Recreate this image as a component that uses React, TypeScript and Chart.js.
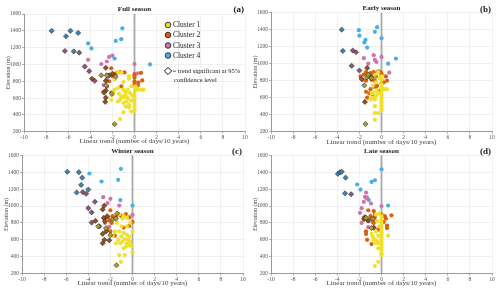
import React, { useEffect, useRef } from "react";
import { Chart, registerables } from "chart.js";

Chart.register(...registerables);

type P = [number, number];

// ---------- Full season ----------
const fullC1: P[] = [[-1.5,910],[-1.2,900],[-0.5,860],[-0.5,830],[-1.0,790],[-1.8,820],[-1.5,720],[-1.8,700],[-1.0,700],[-0.8,670],[-0.8,630],[-1.1,620],[-1.3,580],[-0.6,600],[-0.3,570],[-0.5,520],[-0.8,500],[-0.5,490],[-1.0,540],[-1.5,560],[-2.1,580],[-1.0,430],[-1.3,350],[0.1,700],[0.3,700],[0.6,700],[0.8,700],[0,650],[0,610],[0,570],[0,530],[0,490],[0,450],[-0.3,440],[-0.2,630],[-0.4,660],[-0.6,700],[-1.4,650],[-1.2,610],[-0.3,740],[0.1,740],[-1.9,680],[-2.0,640],[-0.7,560],[-0.9,610]];
const fullC1Sig: P[] = [[-3.0,870],[-2.5,870],[-1.7,855],[-2.55,750],[-2.05,650],[-1.8,290]];
const fullC2: P[] = [[-2.1,955],[-1.3,910],[-0.9,905],[-1.6,900],[-1.8,885],[-2.5,875],[0,885],[0,870],[0,845],[0.6,900],[0.7,810],[0.35,785],[0.3,750],[-1.2,740],[-2.5,735],[-2.8,675],[-2.1,665],[-2.3,800],[-2.0,860],[0,800],[0,770]];
const fullC2Sig: P[] = [[-3.85,830],[-2.6,960],[-2.6,805],[-2.6,690],[-2.75,665],[-2.6,605],[-2.65,555],[-2.3,870],[-2.0,890]];
const fullC3: P[] = [[-4.2,1055],[-3.0,1005],[-2.5,1035],[-2.3,1090],[-2.0,1105],[0,1005],[0.3,895],[-2.8,755],[-2.5,830]];
const fullC3Sig: P[] = [[-6.3,1160],[-5.0,1140],[-4.5,975],[-4.1,920],[-3.6,805]];
const fullC4: P[] = [[-1.1,1430],[-1.2,1300],[-1.7,1280],[-4.2,1250],[-3.9,1190],[-1.8,1070],[1.4,1000]];
const fullC4Sig: P[] = [[-7.5,1400],[-6.2,1335],[-5.8,1400],[-5.1,1375],[-5.5,1155]];

// ---------- Early season ----------
const earlyC1: P[] = [[0,850],[0,810],[0,760],[0,720],[0,680],[0,650],[0,620],[0,590],[0,560],[0,530],[0,500],[0,470],[0,450],[0.1,700],[0.3,700],[0.5,700],[-0.6,500],[-0.6,420],[-0.6,340],[-0.3,420],[-0.8,600],[-0.6,580],[-0.3,650],[-0.7,660],[-0.4,690],[-1.0,580],[-0.9,650],[-0.5,620],[-0.2,830],[-0.3,900],[-0.6,870],[-0.5,780],[-0.8,740]];
const earlyC1Sig: P[] = [[-1.45,290],[-1.55,745],[-1.3,840],[-0.9,830],[-1.2,870]];
const earlyC2: P[] = [[-1.4,900],[-1.0,890],[-0.7,900],[-0.3,910],[-0.1,905],[0,880],[0,870],[0,820],[0,770],[-1.6,870],[-1.2,870],[-0.8,860],[-0.5,850],[-1.7,810],[-1.4,800],[-0.9,810],[-0.6,800],[-0.4,740],[-0.7,730],[-1.0,700],[-1.4,670],[-1.1,650],[-1.3,600],[0.4,850],[0.5,800],[0.2,780],[-0.2,680],[-0.8,620],[-1.9,850],[-0.5,730]];
const earlyC2Sig: P[] = [[-1.3,950],[-1.5,550],[-1.0,840]];
const earlyC3: P[] = [[-0.7,1100],[-0.6,1045],[-0.45,1020],[-1.6,1065],[-1.2,1000],[0,1080],[0.7,895]];
const earlyC3Sig: P[] = [[-2.6,1155],[-2.3,1135],[-2.7,975],[-2.0,920],[-1.8,820]];
const earlyC4: P[] = [[-0.4,1430],[-0.6,1375],[-2.05,1395],[-2.0,1330],[-1.45,1280],[-1.55,1250],[-1.3,1190],[0,1300],[0.6,1000],[1.3,1060]];
const earlyC4Sig: P[] = [[-3.6,1400],[-3.5,1150]];

// ---------- Winter season ----------
const winterC1: P[] = [[-1.2,900],[-0.8,880],[-0.5,860],[-0.9,850],[-1.4,800],[-1.0,760],[-0.5,760],[-0.2,800],[0,700],[-1.2,700],[-0.8,680],[-0.5,660],[-0.3,640],[-1.0,640],[-0.7,610],[-0.4,600],[-0.2,580],[-0.5,560],[-0.3,540],[-0.6,520],[-0.8,500],[-0.1,530],[-1.3,600],[-1.5,560],[-1.1,560],[-1.2,420],[-0.7,420],[-1.05,340],[0,450],[-1.6,700],[-1.8,650],[-0.9,580]];
const winterC1Sig: P[] = [[-2.0,655],[-2.4,740],[-1.45,300],[-1.8,840],[-1.5,850],[-1.4,910],[-3.1,760]];
const winterC2: P[] = [[-2.0,950],[-1.3,910],[-0.6,905],[-0.3,865],[0,810],[-0.3,765],[-0.8,745],[-1.0,880],[-1.5,870],[-1.8,880],[-2.2,870],[-2.5,850],[-2.1,830],[-1.9,800],[-1.1,890],[-0.8,880],[-1.6,650],[-2.0,700],[-2.3,720]];
const winterC2Sig: P[] = [[-2.55,1005],[-2.7,960],[-3.35,825],[-2.6,860],[-2.5,820],[-2.4,700],[-2.7,670],[-2.7,560],[-2.55,600],[-2.1,595],[-2.3,880]];
const winterC3: P[] = [[-2.65,1105],[-2.0,1085],[-2.25,1035],[-1.2,1005],[0,895],[-2.1,755],[-2.5,800]];
const winterC3Sig: P[] = [[-4.5,1165],[-4.2,1145],[-3.4,1050],[-4.0,975],[-3.7,925],[-3.7,805],[-3.0,760]];
const winterC4: P[] = [[-3.9,1385],[-2.8,1290],[-1.3,1310],[-1.05,1440],[-1.1,1070],[0,1005]];
const winterC4Sig: P[] = [[-5.9,1405],[-4.85,1400],[-4.55,1335],[-4.65,1250],[-4.0,1195],[-5.05,1160]];

// ---------- Late season ----------
const lateC1: P[] = [[0,880],[0,840],[0,800],[0,760],[0,720],[0,690],[0,660],[0,630],[0,600],[0,570],[0,540],[0,510],[0,480],[0,440],[0,420],[-0.6,290],[-0.3,340],[-0.3,500],[0.6,650],[-0.5,700],[-0.8,640],[-0.6,610],[-0.4,580],[-0.2,560],[-0.7,600],[-0.3,650],[-0.5,900],[-0.2,910],[-0.4,820],[-0.2,760],[-0.9,670],[-0.5,560]];
const lateC1Sig: P[] = [[-1.4,860],[-0.8,850],[-0.9,740]];
const lateC2: P[] = [[-1.2,950],[-0.7,940],[-0.6,900],[-0.6,870],[-0.9,850],[-1.2,820],[-0.5,820],[-0.7,800],[0,900],[0.3,880],[0.4,850],[0.5,770],[0.5,740],[0.2,810],[0.9,890],[-1.4,700],[-1.4,670],[-1.3,600],[-0.9,550],[-1.0,880],[-1.6,840],[-0.3,720]];
const lateC2Sig: P[] = [[-1.5,870],[-1.55,850],[-1.2,830],[-0.7,745]];
const lateC3: P[] = [[-1.4,1160],[-1.5,1110],[-1.35,1090],[-1.6,1050],[-1.8,975],[-1.95,920],[-1.8,800],[-0.95,1030],[0,1000],[-1.2,750],[-1.3,1100],[-0.8,810]];
const lateC3Sig: P[] = [[-2.75,1140]];
const lateC4: P[] = [[0,1435],[-0.6,1305],[-0.9,1285],[-2.2,1255],[-1.9,1195],[-1.15,1070],[0.6,1005]];
const lateC4Sig: P[] = [[-3.95,1380],[-3.75,1400],[-3.6,1405],[-3.25,1335],[-3.3,1150]];

const clusterLabels = ["Cluster 1", "Cluster 2", "Cluster 3", "Cluster 4"];
const clusterColors = ["#f0e02a", "#d9600f", "#cf73aa", "#49aee6"];
const sigColors = ["#a3a033", "#94501e", "#93547a", "#3f82b0"];
const xTicksMin = -10, xTicksMax = 10, xStep = 2;
const yTicksMin = 200, yTicksMax = 1600, yStep = 200;

const SERIF = "'Liberation Serif', 'DejaVu Serif', serif";

interface PanelDef {
  title: string;
  tag: string;
  series: P[][];
  sig: P[][];
  left: number; top: number; w: number; h: number;
  area: { l: number; r: number; t: number; b: number };
  xTitleY: number; yTitleX: number; titleY: number; tagY: number;
  legend?: boolean;
}

const panels: PanelDef[] = [
  { title: "Full season", tag: "(a)", series: [fullC1, fullC2, fullC3, fullC4], sig: [fullC1Sig, fullC2Sig, fullC3Sig, fullC4Sig],
    left: 0, top: 0, w: 250, h: 146, area: { l: 24, r: 245, t: 14, b: 131.7 }, xTitleY: 141.5, yTitleX: 8.5, titleY: 9.5, tagY: 9.5, legend: true },
  { title: "Early season", tag: "(b)", series: [earlyC1, earlyC2, earlyC3, earlyC4], sig: [earlyC1Sig, earlyC2Sig, earlyC3Sig, earlyC4Sig],
    left: 250, top: 0, w: 250, h: 146, area: { l: 21, r: 242, t: 12.7, b: 131.7 }, xTitleY: 142, yTitleX: 5.5, titleY: 8.5, tagY: 9.5 },
  { title: "Winter season", tag: "(c)", series: [winterC1, winterC2, winterC3, winterC4], sig: [winterC1Sig, winterC2Sig, winterC3Sig, winterC4Sig],
    left: 0, top: 146, w: 250, h: 147, area: { l: 22, r: 243, t: 9.3, b: 127.7 }, xTitleY: 137.5, yTitleX: 6.5, titleY: 5, tagY: 5.5 },
  { title: "Late season", tag: "(d)", series: [lateC1, lateC2, lateC3, lateC4], sig: [lateC1Sig, lateC2Sig, lateC3Sig, lateC4Sig],
    left: 250, top: 146, w: 250, h: 147, area: { l: 21, r: 242, t: 9.3, b: 127.7 }, xTitleY: 137.5, yTitleX: 5.5, titleY: 5, tagY: 5.5 },
];

function Panel({ def }: { def: PanelDef }) {
  const ref = useRef<HTMLCanvasElement | null>(null);
  useEffect(() => {
    if (!ref.current) return;
    const toPts = (arr: P[]) => arr.map(([x, y]) => ({ x, y }));
    const datasets: any[] = [];
    for (let i = 0; i < 4; i++) {
      datasets.push({
        label: clusterLabels[i] + " sig",
        data: toPts(def.sig[i]),
        pointStyle: "rectRot",
        pointRadius: 2.6,
        backgroundColor: sigColors[i],
        borderColor: "rgba(30,30,30,0.85)",
        borderWidth: 0.6,
      });
    }
    for (let i = 0; i < 4; i++) {
      datasets.push({
        label: clusterLabels[i],
        data: toPts(def.series[i]),
        pointStyle: "circle",
        pointRadius: 2.1,
        backgroundColor: clusterColors[i],
        borderColor: clusterColors[i],
        borderWidth: 0,
      });
    }
    const a = def.area;
    const decor = {
      id: "decor",
      beforeDatasetsDraw(chart: any) {
        const { ctx, chartArea, scales } = chart;
        const x0 = scales.x.getPixelForValue(0);
        ctx.save();
        ctx.strokeStyle = "rgba(150,150,150,0.8)";
        ctx.lineWidth = 1.8;
        ctx.beginPath();
        ctx.moveTo(x0, chartArea.top);
        ctx.lineTo(x0, chartArea.bottom);
        ctx.stroke();
        ctx.restore();
      },
      afterDraw(chart: any) {
        const { ctx, chartArea } = chart;
        ctx.save();
        ctx.fillStyle = "#222";
        ctx.font = `bold 7px ${SERIF}`;
        ctx.textAlign = "center";
        ctx.textBaseline = "middle";
        ctx.fillText(def.title, (chartArea.left + chartArea.right) / 2, def.titleY);
        ctx.font = `bold 9px ${SERIF}`;
        ctx.textAlign = "right";
        ctx.fillText(def.tag, chartArea.right - 1, def.tagY);
        ctx.font = `7px ${SERIF}`;
        ctx.fillStyle = "#444";
        ctx.textAlign = "center";
        ctx.fillText("Linear trend (number of days/10 years)", (chartArea.left + chartArea.right) / 2, def.xTitleY);
        ctx.save();
        ctx.translate(def.yTitleX, (chartArea.top + chartArea.bottom) / 2);
        ctx.rotate(-Math.PI / 2);
        ctx.font = `6px ${SERIF}`;
        ctx.fillText("Elevation (m)", 0, 0);
        ctx.restore();
        if (def.legend) {
          const lx = 168;
          const ys = [25, 35, 45.5, 55.5];
          ctx.font = `7.5px ${SERIF}`;
          ctx.textAlign = "left";
          for (let i = 0; i < 4; i++) {
            ctx.beginPath();
            ctx.arc(lx, ys[i], 2.8, 0, Math.PI * 2);
            ctx.fillStyle = clusterColors[i];
            ctx.fill();
            ctx.lineWidth = 0.8;
            ctx.strokeStyle = "#111";
            ctx.stroke();
            ctx.fillStyle = "#222";
            ctx.fillText(clusterLabels[i], lx + 5, ys[i] + 0.5);
          }
          const dy = 71;
          ctx.beginPath();
          ctx.moveTo(lx, dy - 3.6);
          ctx.lineTo(lx + 3.6, dy);
          ctx.lineTo(lx, dy + 3.6);
          ctx.lineTo(lx - 3.6, dy);
          ctx.closePath();
          ctx.fillStyle = "#fff";
          ctx.fill();
          ctx.lineWidth = 1;
          ctx.strokeStyle = "#111";
          ctx.stroke();
          ctx.fillStyle = "#222";
          ctx.font = `6.5px ${SERIF}`;
          ctx.fillText("= trend significant at 95%", lx + 4.5, dy + 0.5);
          ctx.fillText("confidence level", lx + 6, dy + 9);
        }
        ctx.restore();
      },
    };
    const chart = new Chart(ref.current, {
      type: "scatter",
      data: { datasets },
      options: {
        animation: false,
        responsive: false,
        maintainAspectRatio: false,
        layout: { padding: { left: 0, top: a.t, right: def.w - a.r, bottom: 0 } },
        plugins: { legend: { display: false }, tooltip: { enabled: false }, title: { display: false } },
        scales: {
          x: {
            type: "linear",
            min: xTicksMin, max: xTicksMax,
            ticks: { stepSize: xStep, padding: 1, font: { size: 5.5, family: SERIF }, color: "#555", maxRotation: 0, callback: (v: any) => String(v) },
            grid: { color: "#ececec", lineWidth: 0.8, tickLength: 2, tickColor: "#999" },
            border: { color: "#9a9a9a", width: 1 },
            afterFit: (s: any) => { s.height = def.h - a.b; },
          },
          y: {
            type: "linear",
            min: yTicksMin, max: yTicksMax,
            ticks: { stepSize: yStep, padding: 1, font: { size: 5.5, family: SERIF }, color: "#555", callback: (v: any) => String(v) },
            grid: { color: "#ececec", lineWidth: 0.8, tickLength: 2, tickColor: "#999" },
            border: { color: "#9a9a9a", width: 1 },
            afterFit: (s: any) => { s.width = a.l; },
          },
        },
      } as any,
      plugins: [decor],
    });
    return () => chart.destroy();
  }, [def]);
  return (
    <canvas
      ref={ref}
      width={def.w}
      height={def.h}
      style={{ position: "absolute", left: def.left, top: def.top, width: def.w, height: def.h }}
    />
  );
}

export default function App() {
  return (
    <div style={{ position: "absolute", left: 0, top: 0, width: 500, height: 293, background: "#fff" }}>
      {panels.map((p) => (
        <Panel key={p.tag} def={p} />
      ))}
    </div>
  );
}
